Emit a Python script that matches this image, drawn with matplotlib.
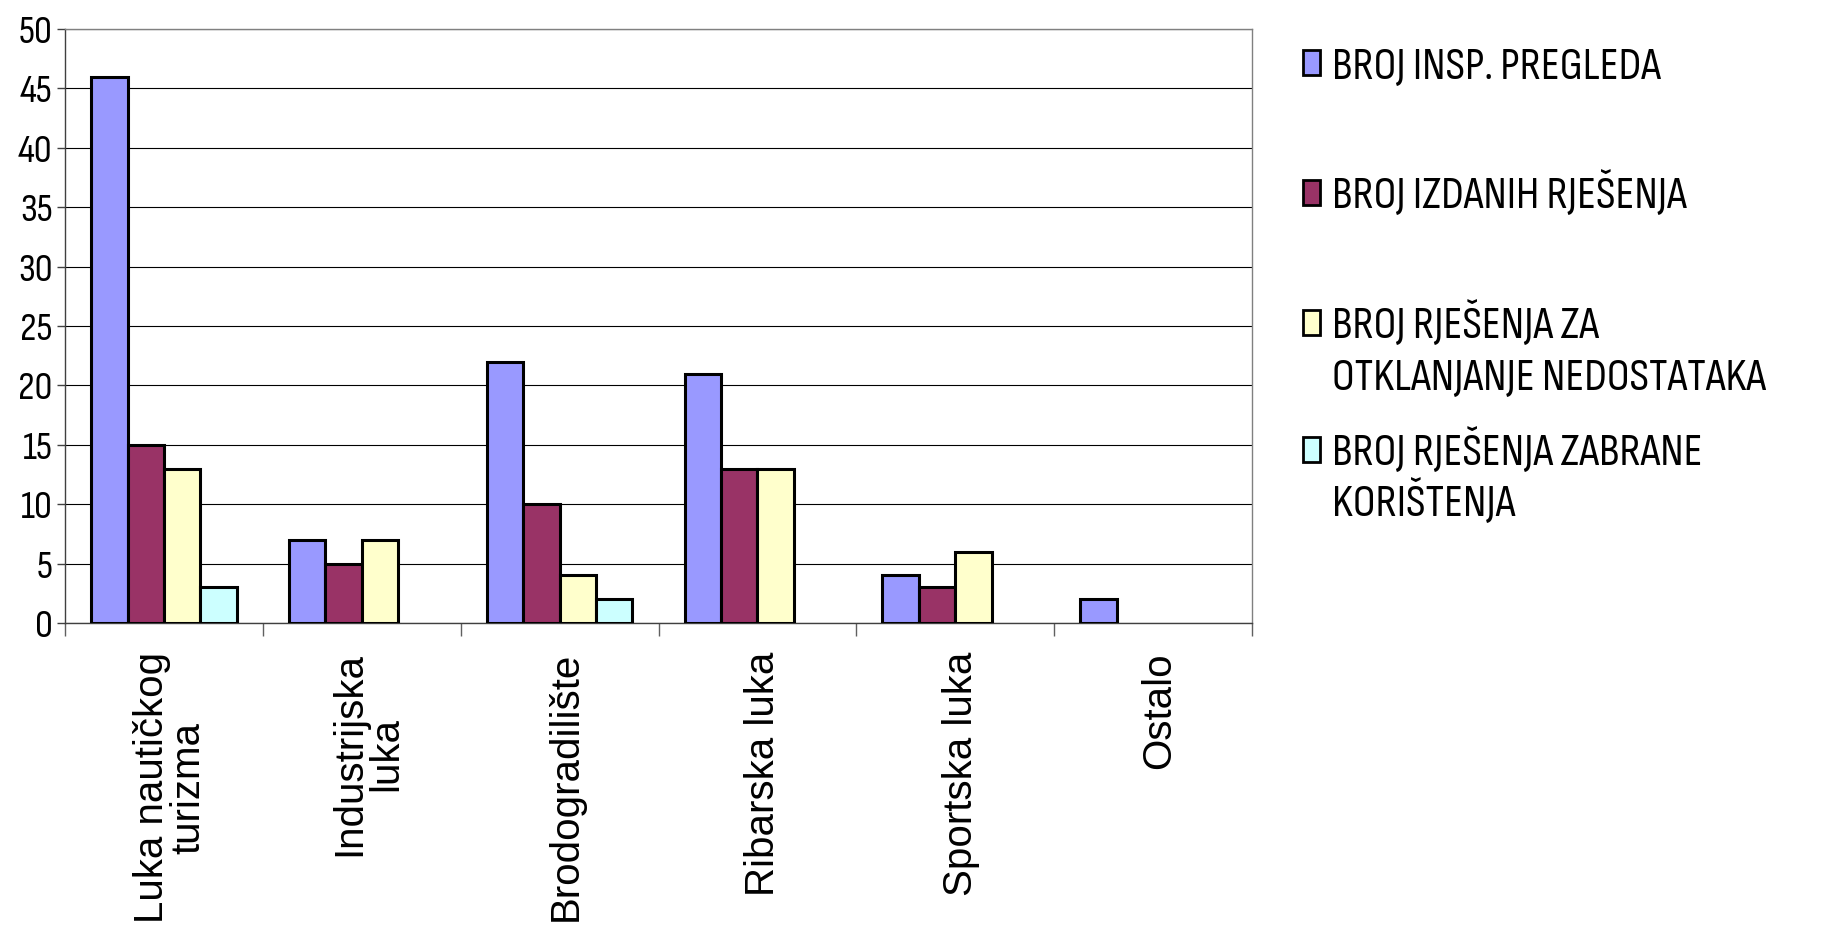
import numpy as np
import matplotlib
matplotlib.use("Agg")
import matplotlib.pyplot as plt
from matplotlib import font_manager as fm
from matplotlib.patches import Rectangle
from matplotlib.transforms import ScaledTranslation, blended_transform_factory

categories = ["Luka nautičkog\nturizma", "Industrijska\nluka", "Brodogradilište",
              "Ribarska luka", "Sportska luka", "Ostalo"]
series_names = ["BROJ INSP. PREGLEDA", "BROJ IZDANIH RJEŠENJA",
                "BROJ RJEŠENJA ZA\nOTKLANJANJE NEDOSTATAKA",
                "BROJ RJEŠENJA ZABRANE\nKORIŠTENJA"]
insp_pregleda = [46, 7, 22, 21, 4, 2]
izdanih_rjesenja = [15, 5, 10, 13, 3, 0]
otklanjanje = [13, 7, 4, 13, 6, 0]
zabrane = [3, 0, 2, 0, 0, 0]
y_ticks = [0, 5, 10, 15, 20, 25, 30, 35, 40, 45, 50]

colors = ["#9999FF", "#993366", "#FFFFCC", "#CCFFFF"]
values = [insp_pregleda, izdanih_rjesenja, otklanjanje, zabrane]

names = {f.name for f in fm.fontManager.ttflist}
base = "Liberation Sans" if "Liberation Sans" in names else "DejaVu Sans"
narrow = base
for cand in ["Liberation Sans Narrow", "Arial Narrow", "Sofia Sans Condensed",
             "Roboto Condensed", "Archivo Narrow", "Fira Sans Condensed"]:
    if cand in names:
        narrow = cand
        break

W, H, DPI = 1846, 942, 100
fig = plt.figure(figsize=(W / DPI, H / DPI), dpi=DPI)
ax = fig.add_axes([65 / W, 1 - 623 / H, (1252 - 65) / W, (623 - 29) / H])
renderer = fig.canvas.get_renderer()


def fit_size(text, family, target_px, start=30):
    t = fig.text(0, 0, text, fontfamily=family, fontsize=start)
    w = t.get_window_extent(renderer).width
    t.remove()
    return start * target_px / w


bw = 0.184
start = 0.132
n = len(categories)
x = np.arange(n)
for k, (vals, c) in enumerate(zip(values, colors)):
    bars = ax.bar(x + start + k * bw, vals, width=bw, align="edge",
                  color=c, edgecolor="black", linewidth=2.2, zorder=3)
    for b in bars:
        if b.get_height() == 0:
            b.set_visible(False)

tick_size = min(32, fit_size("50", narrow, 34))
ax.set_xlim(0, n)
ax.set_ylim(0, 50)
ax.set_yticks(y_ticks)
ax.set_yticklabels([str(v) for v in y_ticks], fontfamily=narrow, fontsize=tick_size)
ax.tick_params(axis="y", direction="out", length=6, width=1, color="#404040", pad=3)
ax.set_xticks(np.arange(n + 1))
ax.set_xticklabels([])
ax.tick_params(axis="x", direction="out", length=9, width=1, color="#606060")
ax.yaxis.grid(True, color="black", linewidth=0.8, zorder=0)
ax.set_axisbelow(True)
for s in ["left", "bottom"]:
    ax.spines[s].set_color("#404040")
    ax.spines[s].set_linewidth(1)
for s in ["top", "right"]:
    ax.spines[s].set_color("#808080")
    ax.spines[s].set_linewidth(1)

trans = blended_transform_factory(ax.transData, ax.transAxes) + \
    ScaledTranslation(6 / DPI, -29 / DPI, fig.dpi_scale_trans)
for i, lab in enumerate(categories):
    ax.text(i + 0.5, 0, lab, transform=trans, rotation=90, ha="center", va="top",
            multialignment="center", fontfamily=base, fontsize=29, linespacing=0.95)

# legend (drawn manually in figure pixel coordinates)
leg_size = min(33, fit_size("OTKLANJANJE NEDOSTATAKA", narrow, 452))
cap_px = 0.7 * leg_size * DPI / 72
line_px = 51
leg_rows = [63, 193, 323, 450]
for name, c, yc in zip(series_names, colors, leg_rows):
    fig.add_artist(Rectangle(((1303) / W, 1 - (yc + 12) / H), 17 / W, 25 / H,
                             transform=fig.transFigure, facecolor=c,
                             edgecolor="black", linewidth=2))
    for j, line in enumerate(name.split("\n")):
        fig.text(1332 / W, 1 - (yc + cap_px / 2 + j * line_px) / H, line,
                 ha="left", va="baseline", fontfamily=narrow, fontsize=leg_size)

fig.savefig("out.png", dpi=DPI)
